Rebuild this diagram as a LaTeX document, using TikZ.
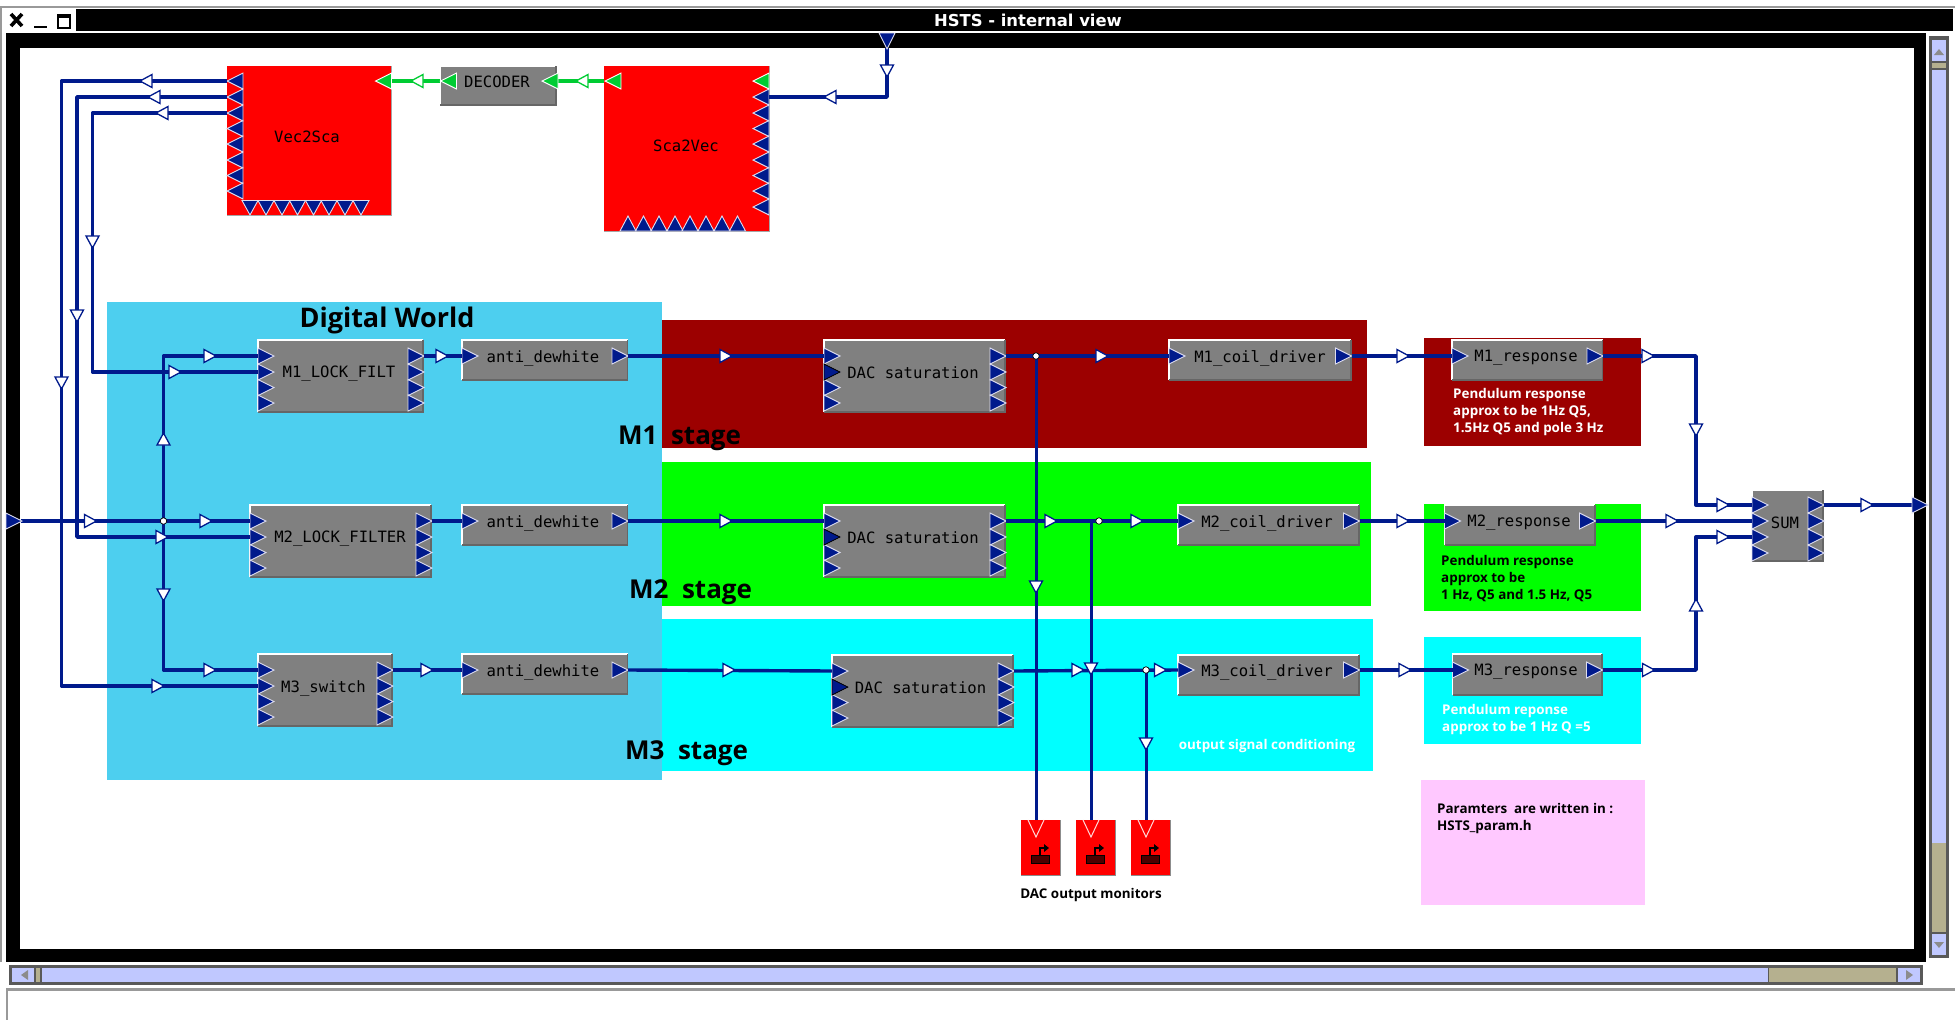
\documentclass[tikz,border=0pt]{standalone}
\usepackage{fontspec}
\setmainfont{Open Sans}
\newfontfamily\monofam{DejaVu Sans Mono}
\newfontfamily\titlefam{DejaVu Sans}
\definecolor{navy}{HTML}{001A8C}
\definecolor{portedge}{HTML}{DDDDF0}
\definecolor{sigil}{HTML}{00CC33}
\definecolor{blockgray}{HTML}{808080}
\definecolor{digiblue}{HTML}{4DCFEF}
\definecolor{darkred}{HTML}{9C0000}
\definecolor{peri}{HTML}{C0C8FF}
\definecolor{beige}{HTML}{B5B08F}
\definecolor{pinkbox}{HTML}{FFC8FF}
\definecolor{purecyan}{HTML}{00FFFF}
\definecolor{puregreen}{HTML}{00FF00}
\definecolor{purered}{HTML}{FF0000}
\tikzset{
  pin/.style={inner sep=0pt,outer sep=0pt,minimum size=0pt},
  panel/.style={inner sep=0pt,outer sep=0pt,draw=none},
  wire/.style={draw=navy,line width=3.4pt,line join=round},
  thinwire/.style={draw=navy,line width=3pt,line join=round},
  greenwire/.style={draw=sigil,line width=3.4pt},
  porttri/.style={fill=navy,draw=portedge,line width=.9pt,line join=miter},
  darktri/.style={fill=navy,draw=black,line width=.9pt},
  greentri/.style={fill=sigil,draw=white,line width=.9pt},
  hollow/.style={fill=white,draw=navy,line width=1.3pt},
  hollowgreen/.style={fill=white,draw=sigil,line width=1.3pt},
  jdot/.style={circle,fill=white,draw=black,line width=.7pt,inner sep=0pt,minimum size=6.5pt},
  blocklabel/.style={inner sep=0pt,yshift=-2pt,font=\monofam\fontsize{15.6}{17}\selectfont,text=black},
  stagelabel/.style={anchor=west,inner sep=0pt,yshift=-2pt,font=\bfseries\fontsize{26}{30}\selectfont,text=black},
  note/.style={anchor=west,inner sep=0pt,yshift=-1pt,align=left,font=\bfseries\fontsize{13.4}{17}\selectfont},
}
\newcommand\tri[4]{\draw[#1,shift={(#2,#3)},rotate=#4] (0,-8)--(16,0)--(0,8)--cycle;}
\newcommand\hol[3]{\draw[hollow,shift={(#1,#2)},rotate=#3] (-6,-6.5)--(6,0)--(-6,6.5)--cycle;}
\newcommand\holg[3]{\draw[hollowgreen,shift={(#1,#2)},rotate=#3] (-6,-6.5)--(6,0)--(-6,6.5)--cycle;}
% name x1 y1 x2 y2 fill
\newcommand\boxnode[6]{%
  \node[panel,fill=#6,minimum width={(#4-#2)*1pt},minimum height={(#5-#3)*1pt}] (#1) at ({(#2+#4)/2},{(#3+#5)/2}) {};}
\newcommand\gblock[5]{%
  \boxnode{#1}{#2}{#3}{#4}{#5}{blockgray}
  \draw[white,line width=1.2pt] (#2,#5)--(#2,#3)--(#4,#3);
  \draw[black!60,line width=1.4pt] (#2,#5)--(#4,#5)--(#4,#3);}
% input and output pin of a two-port block at row y
\newcommand\twoports[4]{%
  \node[pin] (#1-i) at (#2,#4) {}; \tri{porttri}{#2}{#4}{0}
  \node[pin] (#1-o) at (#3,#4) {}; \tri{porttri}{#3-16}{#4}{0}}
% name xleft xright ytop  four ports per side
\newcommand\quadports[4]{%
  \foreach \i/\d in {1/16,2/32,3/47.5,4/63}{
    \node[pin] (#1-i\i) at ({#2},{#4+\d}) {}; \tri{porttri}{#2}{#4+\d}{0}
    \node[pin] (#1-o\i) at ({#3},{#4+\d}) {}; \tri{porttri}{#3-16}{#4+\d}{0}}}
% monitor block
\newcommand\monitor[3]{%
  \boxnode{#1}{#2}{820}{#2+39}{875}{purered}
  \draw[black!45,line width=1pt] (#2,875)--(#2+39,875)--(#2+39,820);
  \node[pin] (#1-i) at (#3,820) {};
  \draw[fill=purered,draw=white!85!red,line width=1pt] (#3-8,820)--(#3,837)--(#3+8,820);
  \fill[black!70!red,draw=black,line width=.6pt] (#2+10,855) rectangle (#2+28,863);
  \draw[black,line width=1.8pt] (#2+19,855)--(#2+19,848)--(#2+24,848);
  \fill[black] (#2+23,844)--(#2+28,848)--(#2+23,852)--cycle;}
\begin{document}
\begin{tikzpicture}[x=1pt,y=-1pt]
\useasboundingbox (0,0) rectangle (1955,1020);
\fill[white] (0,0) rectangle (1955,1020);
% ---------- window chrome
\fill[black!40] (0,6) rectangle (1955,8);
\fill[black!40] (0,6) rectangle (2,962);
\fill[black] (76,8.5) rectangle (1953,31);
\fill[black] (6,33) rectangle (1926,962);
\fill[white] (20,48) rectangle (1913.5,948.5);
\draw[black,line width=3.6pt] (11,14)--(22,26) (22,14)--(11,26);
\draw[black,line width=2.6pt] (34,27)--(47,27);
\draw[black,line width=1.6pt,fill=white] (58,15) rectangle (70,28);
\fill[black] (57,14) rectangle (71,18);
\node[inner sep=0pt,text=white,font=\titlefam\bfseries\fontsize{16.4}{18}\selectfont] (title) at (1028,20.5) {HSTS - internal view};
% scroll bars
\fill[black!65] (1929,36) rectangle (1949,958);
\fill[peri] (1932,40) rectangle (1946,61);
\fill[black!45] (1934,55)--(1939,49)--(1944,55)--cycle;
\fill[beige] (1932,63) rectangle (1946,68);
\fill[peri] (1932,70) rectangle (1946,843);
\fill[beige] (1932,843) rectangle (1946,932);
\fill[peri] (1932,934) rectangle (1946,955);
\fill[black!45] (1934,942)--(1939,948)--(1944,942)--cycle;
\fill[black!65] (9,965) rectangle (1923,985);
\fill[peri] (12,968) rectangle (34,982);
\fill[black!45] (28,970)--(21,975)--(28,980)--cycle;
\fill[beige] (36,968) rectangle (40,982);
\fill[peri] (42,968) rectangle (1768,982);
\fill[beige] (1769,968) rectangle (1896,982);
\fill[peri] (1898,968) rectangle (1920,982);
\fill[black!45] (1906,970)--(1913,975)--(1906,980)--cycle;
\fill[black!40] (6,988) rectangle (1955,990.5);
\fill[black!40] (6,988) rectangle (8,1020);
% ---------- coloured regions
\boxnode{digital}{107}{302}{662}{780}{digiblue}
\boxnode{stageA}{662}{320}{1367}{448}{darkred}
\boxnode{stageB}{662}{462}{1370.5}{606}{puregreen}
\boxnode{stageC}{662}{619}{1373}{771}{purecyan}
\boxnode{respA}{1424}{338}{1641}{446}{darkred}
\boxnode{respB}{1424}{504}{1641}{611}{puregreen}
\boxnode{respC}{1424}{637}{1641}{744}{purecyan}
\boxnode{params}{1421}{780}{1644.5}{905}{pinkbox}
\node[inner sep=0pt,font=\bfseries\fontsize{27}{30}\selectfont] (dwlabel) at (387,320.5) {Digital World};
\node[stagelabel] (lblA) at (618,436) {M1~~stage};
\node[stagelabel] (lblB) at (629,590) {M2~~stage};
\node[stagelabel] (lblC) at (625,751) {M3~~stage};
\node[note,text=white] (noteA) at (1453,411) {Pendulum response\\approx to be 1Hz Q5,\\1.5Hz Q5 and pole 3 Hz};
\node[note,text=black] (noteB) at (1441,578) {Pendulum response\\approx to be\\1 Hz, Q5 and 1.5 Hz, Q5};
\node[note,text=white] (noteC) at (1442,718.5) {Pendulum reponse\\approx to be 1 Hz Q =5};
\node[note,text=white,anchor=center] (noteD) at (1267,745) {output signal conditioning};
\node[note,text=black] (noteE) at (1437,817.5) {Paramters~~are written in :\\HSTS\_param.h};
\node[note,text=black,anchor=center] (noteF) at (1091,894) {DAC output monitors};
% ---------- red vector blocks
\boxnode{vsc}{227}{66}{391.5}{215}{purered}
\draw[black!35,line width=1pt] (227,215)--(391.5,215)--(391.5,66);
\node[blocklabel,yshift=2pt] (vsclbl) at (307,137) {Vec2Sca};
\foreach \i/\y in {1/81,2/97,3/113,4/128.5,5/144,6/160,7/175.5,8/191}{
  \node[pin] (vsc-l\i) at (227,\y) {};
  \tri{porttri}{243}{\y}{180}}
\foreach \x in {250,266,282,297.5,313.5,329,345,361}{
  \draw[porttri] (\x-8,200.5)--(\x,215)--(\x+8,200.5)--cycle;}
\boxnode{svc}{604}{66}{769}{231}{purered}
\draw[black!35,line width=1pt] (604,231)--(769,231)--(769,66);
\node[blocklabel] (svclbl) at (686,144) {Sca2Vec};
\foreach \i/\y in {2/97,3/113,4/128.5,5/144,6/160,7/175.5,8/191,9/207}{
  \node[pin] (svc-r\i) at (769,\y) {};
  \tri{porttri}{769}{\y}{180}}
\foreach \x in {628,643.5,659,675,690,706,722,737.5}{
  \draw[porttri] (\x-8,231)--(\x,216)--(\x+8,231)--cycle;}
% decoder
\gblock{dec}{440}{66}{556}{105}
\node[blocklabel] (declbl) at (497,80) {DECODER};
\node[pin] (vsc-g) at (391.5,81) {};
\node[pin] (dec-gl) at (440,81) {};
\node[pin] (dec-gr) at (556,81) {};
\node[pin] (svc-g) at (604,81) {};
% ---------- grey blocks
\gblock{lockA}{258}{340}{423}{412}
\node[blocklabel] (lockAl) at (339,372) {M1\_LOCK\_FILT};
\quadports{lockA}{258}{424}{340}
\gblock{lockB}{250}{505}{431}{577}
\node[blocklabel] (lockBl) at (340,537) {M2\_LOCK\_FILTER};
\quadports{lockB}{250}{432}{505}
\gblock{lockC}{258}{654}{392}{726}
\node[blocklabel] (lockCl) at (323.5,686) {M3\_switch};
\quadports{lockC}{258}{393}{654}
\gblock{antiA}{462}{340}{627.5}{380}
\node[blocklabel] (antiAl) at (543,356) {anti\_dewhite};
\twoports{antiA}{462}{628}{356}
\gblock{antiB}{462}{505}{627.5}{545}
\node[blocklabel] (antiBl) at (543,521) {anti\_dewhite};
\twoports{antiB}{462}{628}{521}
\gblock{antiC}{462}{654}{627.5}{694}
\node[blocklabel] (antiCl) at (543,670) {anti\_dewhite};
\twoports{antiC}{462}{628}{670}
\gblock{dacA}{824}{340}{1005}{412}
\node[blocklabel] (dacAl) at (913,370.5) {DAC saturation};
\quadports{dacA}{824}{1006}{340}
\tri{darktri}{824}{372}{0}
\gblock{dacB}{824}{505}{1005}{577}
\node[blocklabel] (dacBl) at (913,535.5) {DAC saturation};
\quadports{dacB}{824}{1006}{505}
\tri{darktri}{824}{537}{0}
\gblock{dacC}{832}{655}{1013}{727}
\node[blocklabel] (dacCl) at (920.5,685.5) {DAC saturation};
\quadports{dacC}{832}{1014}{655}
\tri{darktri}{832}{687}{0}
\gblock{coilA}{1169}{340}{1351}{380}
\node[blocklabel] (coilAl) at (1260,356) {M1\_coil\_driver};
\twoports{coilA}{1169}{1351.5}{356}
\gblock{coilB}{1178}{505}{1359}{545}
\node[blocklabel] (coilBl) at (1267,521) {M2\_coil\_driver};
\twoports{coilB}{1178}{1359.5}{521}
\gblock{coilC}{1178}{655}{1359}{695}
\node[blocklabel] (coilCl) at (1267,670) {M3\_coil\_driver};
\twoports{coilC}{1178}{1359.5}{670}
\gblock{rspA}{1452}{340}{1602.5}{380}
\node[blocklabel] (rspAl) at (1526,356) {M1\_response};
\twoports{rspA}{1452}{1603}{356}
\gblock{rspB}{1444.5}{505}{1595}{545}
\node[blocklabel] (rspBl) at (1519,521) {M2\_response};
\twoports{rspB}{1444.5}{1595.5}{521}
\gblock{rspC}{1452.5}{654}{1602}{695}
\node[blocklabel] (rspCl) at (1526,670) {M3\_response};
\twoports{rspC}{1452.5}{1602.5}{670}
\gblock{sum}{1752}{490}{1823}{561}
\node[blocklabel] (suml) at (1785,521) {SUM};
\foreach \i/\y in {1/505,2/521,3/537,4/553}{
  \node[pin] (sum-i\i) at (1752,\y) {}; \tri{porttri}{1752}{\y}{0}
  \node[pin] (sum-o\i) at (1824,\y) {}; \tri{porttri}{1808}{\y}{0}}
% monitors
\monitor{monA}{1021}{1036}
\monitor{monB}{1076}{1091}
\monitor{monC}{1131}{1146}
% ---------- free ends and routing points
\node[pin] (inp) at (21,521) {};
\node[pin] (topin) at (887,48) {};
\node[pin] (outp) at (1913,505) {};
\coordinate (busA) at (61.5,400);
\coordinate (busB) at (77,400);
\coordinate (busC) at (92.5,300);
\coordinate (busD) at (163.5,521);
\coordinate (busRa) at (1696,430);
\coordinate (busRc) at (1696,605);
\coordinate (jA) at (1036,356);
\coordinate (jB) at (1099,521);
\coordinate (tapB) at (1091,521);
\coordinate (jC) at (1146,670);
% ---------- connectors
\draw[wire] (topin) |- (svc-r2);
\draw[wire] (vsc-l1) -| (busA) |- (lockC-i2);
\draw[wire] (vsc-l2) -| (busB) |- (lockB-i2);
\draw[wire] (vsc-l3) -| (busC) |- (lockA-i2);
\draw[wire] (inp) -- (lockB-i1);
\draw[wire] (busD) |- (lockA-i1);
\draw[wire] (busD) |- (lockC-i1);
\draw[wire] (lockA-o1) -- (antiA-i);
\draw[wire] (lockB-o1) -- (antiB-i);
\draw[wire] (lockC-o1) -- (antiC-i);
\draw[wire] (antiA-o) -- (dacA-i1);
\draw[wire] (antiB-o) -- (dacB-i1);
\draw[wire] (antiC-o) -- (dacC-i1);
\draw[thinwire] (jA) -- (monA-i);
\draw[thinwire] (tapB) -- (monB-i);
\draw[thinwire] (jC) -- (monC-i);
\draw[wire] (dacA-o1) -- (coilA-i);
\draw[wire] (dacB-o1) -- (coilB-i);
\draw[wire] (dacC-o1) -- (coilC-i);
\draw[wire] (coilA-o) -- (rspA-i);
\draw[wire] (coilB-o) -- (rspB-i);
\draw[wire] (coilC-o) -- (rspC-i);
\draw[wire] (rspA-o) -| (busRa) |- (sum-i1);
\draw[wire] (rspB-o) -- (sum-i2);
\draw[wire] (rspC-o) -| (busRc) |- (sum-i3);
\draw[wire] (sum-o1) -- (outp);
\draw[greenwire] (dec-gl) -- (vsc-g);
\draw[greenwire] (svc-g) -- (dec-gr);
% ---------- terminals
\tri{greentri}{391.5}{81}{180}
\tri{greentri}{456.5}{81}{180}
\tri{greentri}{558}{81}{180}
\tri{greentri}{621}{81}{180}
\tri{greentri}{769}{81}{180}
\tri{porttri}{887}{33}{-90}
\tri{porttri}{6}{521}{0}
\tri{porttri}{1912}{505}{0}
\node[jdot] (dotD) at (busD) {};
\node[jdot] (dotA) at (jA) {};
\node[jdot] (dotB) at (jB) {};
\node[jdot] (dotC) at (jC) {};
% ---------- direction marks
\holg{417}{81}{180}
\holg{582}{81}{180}
\hol{887}{71}{-90}
\hol{830}{97}{180}
\hol{146}{81}{180}
\hol{154}{97}{180}
\hol{162}{113}{180}
\hol{92.5}{242}{-90}
\hol{77}{316}{-90}
\hol{61.5}{383}{-90}
\hol{90.5}{521}{0}
\hol{206}{521}{0}
\hol{162}{537}{0}
\hol{163.5}{439}{90}
\hol{163.5}{595}{-90}
\hol{210}{356}{0}
\hol{175}{372}{0}
\hol{210}{670}{0}
\hol{158}{686}{0}
\hol{442}{356}{0}
\hol{427}{670}{0}
\hol{726}{356}{0}
\hol{726}{521}{0}
\hol{729}{670}{0}
\hol{1102}{356}{0}
\hol{1036}{587}{-90}
\hol{1051}{521}{0}
\hol{1137}{521}{0}
\hol{1078}{670}{0}
\hol{1091}{669}{-90}
\hol{1160.5}{670}{0}
\hol{1146}{744}{-90}
\hol{1403}{356}{0}
\hol{1403}{521}{0}
\hol{1405}{670}{0}
\hol{1648}{356}{0}
\hol{1696}{430}{-90}
\hol{1723}{505}{0}
\hol{1672}{521}{0}
\hol{1648.5}{670}{0}
\hol{1696}{605}{90}
\hol{1723}{537}{0}
\hol{1867}{505}{0}
\end{tikzpicture}
\end{document}
